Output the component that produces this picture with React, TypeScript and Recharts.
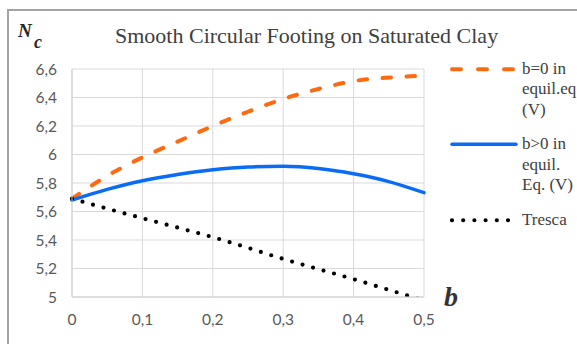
import React from 'react';
import { LineChart, Line, XAxis, YAxis, CartesianGrid, Legend } from 'recharts';

const bValues = [0, 0.05, 0.1, 0.15, 0.2, 0.25, 0.3, 0.35, 0.4, 0.45, 0.5];
const ncB0 = [5.69, 5.85, 5.98, 6.09, 6.2, 6.3, 6.39, 6.46, 6.515, 6.54, 6.553];
const ncBpos = [5.68, 5.755, 5.816, 5.86, 5.893, 5.912, 5.917, 5.902, 5.865, 5.81, 5.732];
const ncTresca = [5.69, 5.62, 5.553, 5.487, 5.42, 5.345, 5.267, 5.196, 5.125, 5.05, 4.975];
const xTicks = [0, 0.1, 0.2, 0.3, 0.4, 0.5];
const yTicks = [5, 5.2, 5.4, 5.6, 5.8, 6, 6.2, 6.4, 6.6];
const seriesKeys = ['b0', 'bpos', 'tresca'];
const seriesNames = ['b=0 in equil.eq (V)', 'b>0 in equil. Eq. (V)', 'Tresca'];
const legendLines = [
  ['b=0 in', 'equil.eq', '(V)'],
  ['b>0 in', 'equil.', 'Eq. (V)'],
  ['Tresca'],
];
const titleText = 'Smooth Circular Footing on Saturated Clay';

const data = bValues.map((b, i) => ({
  b,
  b0: ncB0[i],
  bpos: ncBpos[i],
  tresca: ncTresca[i],
}));

const styles = [
  { stroke: '#FF6A10', width: 4, dash: '8.5 15.5' },
  { stroke: '#0A6CF5', width: 3.5, dash: undefined },
  { stroke: '#000000', width: 4.2, dash: '0 10.9' },
];
const legendDash = ['9 17', undefined, '0 11.2'];

const fmt = (v: number) => String(v).replace('.', ',');

const renderLegend = () => (
  <div
    style={{
      fontFamily: '"Liberation Serif", "Times New Roman", serif',
      fontSize: 17,
      lineHeight: '20.5px',
      color: '#404040',
      whiteSpace: 'nowrap',
    }}
  >
    {legendLines.map((lines, i) => (
      <div key={i} style={{ display: 'flex', marginBottom: 14 }}>
        <svg width={72} height={20.5} style={{ flex: 'none' }}>
          <line
            x1={2}
            x2={i === 2 ? 58 : 66}
            y1={10.25}
            y2={10.25}
            stroke={styles[i].stroke}
            strokeWidth={styles[i].width}
            strokeDasharray={legendDash[i]}
            strokeLinecap="round"
          />
        </svg>
        <div>
          {lines.map((l, j) => (
            <div key={j}>{l}</div>
          ))}
        </div>
      </div>
    ))}
  </div>
);

export default function App() {
  return (
    <div
      style={{
        position: 'fixed',
        left: 0,
        top: 0,
        width: 577,
        height: 344,
        overflow: 'hidden',
        background: '#ffffff',
      }}
    >
      <div
        style={{
          position: 'absolute',
          left: 7,
          top: 9,
          width: 1000,
          height: 1000,
          borderTop: '2px solid #A3A3A3',
          borderLeft: '2px solid #A3A3A3',
        }}
      />
      <LineChart
        width={577}
        height={344}
        data={data}
        margin={{ top: 69, right: 153, bottom: 0, left: 0 }}
        style={{ position: 'absolute', left: 0, top: 0 }}
      >
        <CartesianGrid stroke="#D9D9D9" strokeWidth={1} />
        <XAxis
          dataKey="b"
          type="number"
          domain={[0, 0.5]}
          ticks={xTicks}
          tickFormatter={fmt}
          tickLine={false}
          axisLine={{ stroke: '#D0D0D0' }}
          tickMargin={11}
          height={47}
          tick={{ fill: '#595959', fontSize: 15.5, fontFamily: 'Lato, "Open Sans", sans-serif' }}
        />
        <YAxis
          type="number"
          domain={[5, 6.6]}
          ticks={yTicks}
          allowDataOverflow
          tickFormatter={fmt}
          tickLine={false}
          axisLine={{ stroke: '#D0D0D0' }}
          tickMargin={9}
          width={72}
          tick={{ fill: '#595959', fontSize: 15.5, fontFamily: 'Lato, "Open Sans", sans-serif' }}
        />
        <Legend
          layout="horizontal"
          verticalAlign="middle"
          align="center"
          content={renderLegend}
          wrapperStyle={{ left: 450, top: 58.75, width: 127 }}
        />
        {seriesKeys.map((k, i) => (
          <Line
            key={k}
            dataKey={k}
            name={seriesNames[i]}
            type="monotone"
            stroke={styles[i].stroke}
            strokeWidth={styles[i].width}
            strokeDasharray={styles[i].dash}
            strokeLinecap="round"
            dot={false}
            activeDot={false}
            isAnimationActive={false}
          />
        ))}
      </LineChart>
      <svg
        width={577}
        height={344}
        style={{ position: 'absolute', left: 0, top: 0, pointerEvents: 'none' }}
      >
        <text
          x={115}
          y={43}
          fontFamily='"Liberation Serif", "Times New Roman", serif'
          fontSize={22}
          fill="#404040"
        >
          {titleText}
        </text>
        <text
          x={18}
          y={37}
          fontFamily='"Liberation Serif", "Times New Roman", serif'
          fontSize={19}
          fontWeight="bold"
          fontStyle="italic"
          fill="#262626"
        >
          N
        </text>
        <text
          x={34}
          y={48}
          fontFamily='"Liberation Serif", "Times New Roman", serif'
          fontSize={18}
          fontWeight="bold"
          fontStyle="italic"
          fill="#262626"
        >
          c
        </text>
        <text
          x={444}
          y={306}
          fontFamily='"Liberation Serif", "Times New Roman", serif'
          fontSize={28}
          fontWeight="bold"
          fontStyle="italic"
          fill="#333333"
        >
          b
        </text>
      </svg>
    </div>
  );
}
